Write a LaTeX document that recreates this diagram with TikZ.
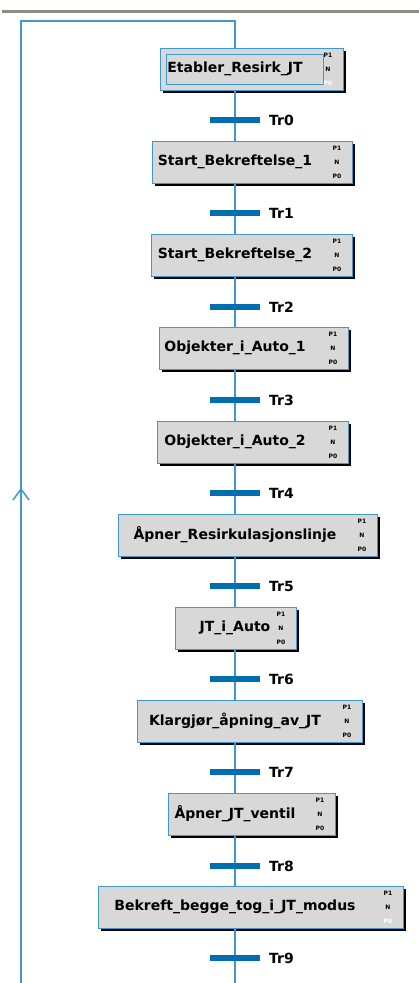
\documentclass[tikz,border=0pt]{standalone}
\usepackage{fontspec}
\setmainfont{DejaVu Sans}
\definecolor{flowblue}{RGB}{61,154,209}
\definecolor{barblue}{RGB}{0,110,175}
\definecolor{stepgray}{RGB}{216,216,216}
\definecolor{rulegray}{RGB}{140,140,132}

\tikzset{
  flow/.style={draw=flowblue, line width=1.5pt},
  stepbox/.style={draw=flowblue, fill=stepgray, line width=1pt, minimum height=42pt, inner sep=0pt},
  steptext/.style={font=\bfseries\fontsize{14}{16}\selectfont, inner sep=0pt},
  qual/.style={font=\bfseries\fontsize{6}{7}\selectfont, inner sep=0pt},
  trans/.style={rectangle, fill=barblue, minimum width=50pt, minimum height=6pt, inner sep=0pt},
  trlabel/.style={font=\bfseries\fontsize{14}{16}\selectfont, anchor=west, inner sep=0pt},
  innerframe/.style={draw=flowblue, line width=1pt, inner sep=0pt},
}

% SFC step: name, left, top, right, caption, colour of the P0 qualifier
\newcommand\sfcstep[6]{%
  \fill[black] ({#2+2.5},{#3+2.5}) rectangle ({#4+2.5},{#3+44.5});
  \node[stepbox, minimum width={#4-#2}, anchor=north west] (#1) at (#2,#3) {};
  \node[steptext] (#1-txt) at (235,{#3+21}) {#5};
  \node[qual] (#1-p1) at ({#4-15},{#3+7}) {P1};
  \node[qual] (#1-n) at ({#4-15},{#3+21}) {N};
  \node[qual, text=#6] (#1-p0) at ({#4-15},{#3+35}) {P0};
}

\begin{document}
\begin{tikzpicture}[x=1pt, y=-1pt]
\useasboundingbox (0,0) rectangle (419,983);
\fill[white] (0,0) rectangle (419,983);

% title rule
\draw[rulegray, line width=3pt] (2,11.5) -- (419,11.5);

% steps
\sfcstep{s0}{160}{48}{343}{Etabler\_Resirk\_JT}{white}
\node[innerframe, minimum width=157pt, minimum height=30pt, anchor=north west] (s0-frame) at (166,54) {};
\sfcstep{s1}{152}{141}{352}{Start\_Bekreftelse\_1}{black}
\sfcstep{s2}{151}{234}{352}{Start\_Bekreftelse\_2}{black}
\sfcstep{s3}{159}{327}{348}{Objekter\_i\_Auto\_1}{black}
\sfcstep{s4}{157}{421}{348}{Objekter\_i\_Auto\_2}{black}
\sfcstep{s5}{118}{514}{377}{Åpner\_Resirkulasjonslinje}{black}
\sfcstep{s6}{175}{607}{296}{JT\_i\_Auto}{black}
\sfcstep{s7}{137}{700}{362}{Klargjør\_åpning\_av\_JT}{black}
\sfcstep{s8}{168}{793}{335}{Åpner\_JT\_ventil}{black}
\sfcstep{s9}{98}{886}{403}{Bekreft\_begge\_tog\_i\_JT\_modus}{white}

% transitions
\foreach \i/\y in {0/120,1/213,2/307,3/400,4/493,5/586,6/679,7/772,8/866,9/958}{
  \node[trans] (t\i) at (235,\y) {};
  \node[trlabel] (t\i-lbl) at (269,\y) {Tr\i};
}

% step -> transition -> step links
\foreach \a/\b in {0/1,1/2,2/3,3/4,4/5,5/6,6/7,7/8,8/9}{
  \draw[flow] (s\a.south -| t\a) -- (t\a);
  \draw[flow] (t\a) -- (t\a |- s\b.north);
}
\coordinate (tail) at (235,983);
\draw[flow] (s9.south -| t9) -- (t9);
\draw[flow] (t9) -- (tail);

% return loop to the initial step
\coordinate (loopbot) at (21,983);
\coordinate (looptl) at (21,21);
\coordinate (looptr) at (235,21);
\draw[flow] (loopbot) -- (looptl) -- (looptr) -- (s0.north -| looptr);
\coordinate (uptip) at (21,489);
\draw[flow] ([shift={(-8,11)}]uptip) -- (uptip) -- ([shift={(8,11)}]uptip);
\end{tikzpicture}
\end{document}
